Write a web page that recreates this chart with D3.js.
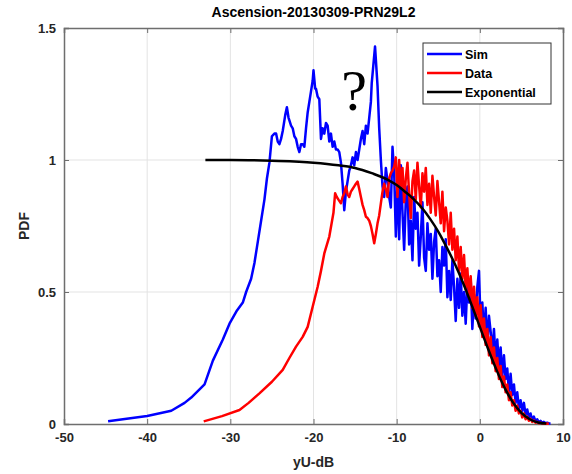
<!DOCTYPE html>
<html>
<head>
<meta charset="utf-8">
<script src="https://cdn.jsdelivr.net/npm/d3@7"></script>
<style>
    body { margin: 0; background: #fff; }
    svg { display: block; font-family: "Liberation Sans", Arial, sans-serif; }
</style>
</head>
<body>
<svg width="572" height="474"></svg>
<script>
const xTicks = [-50, -40, -30, -20, -10, 0, 10];
const yTicks = [0, 0.5, 1, 1.5];

// [yU-dB, PDF] pairs
const simPoints = [
    [-44.7, 0.01], [-40, 0.03], [-37.1, 0.05], [-35.5, 0.08], [-34.7, 0.10], [-33.1, 0.15], [-32.1, 0.24], [-30.9, 0.32], [-30.1, 0.38], [-29.2, 0.43],
    [-28.5, 0.46], [-28.1, 0.50], [-27.5, 0.55], [-27.1, 0.61], [-26.7, 0.69], [-26.3, 0.77], [-25.9, 0.85], [-25.6, 0.93], [-25.3, 0.99], [-25.0, 1.09],
    [-24.7, 1.10], [-24.5, 1.10], [-24.3, 1.07], [-24.1, 1.06], [-23.9, 1.08], [-23.7, 1.11], [-23.4, 1.17], [-23.2, 1.20], [-23.0, 1.16], [-22.9, 1.15],
    [-22.7, 1.13], [-22.5, 1.12], [-22.3, 1.09], [-22.1, 1.08], [-21.9, 1.05], [-21.7, 1.03], [-21.5, 1.06], [-21.3, 1.06], [-21.1, 1.05], [-20.9, 1.12],
    [-20.7, 1.18], [-20.5, 1.22], [-20.3, 1.26], [-20.1, 1.30], [-20.0, 1.34], [-19.8, 1.27], [-19.7, 1.27], [-19.5, 1.24], [-19.3, 1.23], [-19.1, 1.08],
    [-18.9, 1.12], [-18.7, 1.10], [-18.5, 1.14], [-18.3, 1.13], [-18.1, 1.07], [-17.9, 1.10], [-17.7, 1.05], [-17.5, 1.07], [-17.3, 1.04], [-17.1, 1.04],
    [-16.9, 1.03], [-16.7, 0.99], [-16.5, 0.91], [-16.3, 0.81], [-16.1, 0.88], [-15.9, 0.92], [-15.7, 0.96], [-15.5, 0.98], [-15.3, 1.01], [-15.1, 0.98],
    [-14.9, 1.03], [-14.7, 1.00], [-14.5, 1.04], [-14.3, 1.08], [-14.1, 1.11], [-13.9, 1.06], [-13.7, 1.13], [-13.5, 1.10], [-13.3, 1.16], [-13.1, 1.22],
    [-13.0, 1.29], [-12.8, 1.36], [-12.6, 1.43], [-12.4, 1.33], [-12.3, 1.28], [-12.1, 1.12], [-11.9, 1.00], [-11.7, 0.90], [-11.5, 0.86], [-11.3, 0.97],
    [-11.1, 0.92], [-10.9, 0.86], [-10.7, 0.82], [-10.5, 1.05], [-10.3, 0.95], [-10.1, 0.71],
    [-9.9, 0.92], [-9.7, 0.70], [-9.5, 0.98], [-9.3, 0.80], [-9.1, 0.66], [-8.9, 0.85], [-8.7, 0.90], [-8.5, 0.68], [-8.3, 0.77], [-8.1, 0.62],
    [-7.9, 0.86], [-7.7, 0.74], [-7.5, 0.80], [-7.3, 0.60], [-7.1, 0.71], [-6.9, 0.84], [-6.7, 0.63], [-6.5, 0.58], [-6.3, 0.76], [-6.1, 0.66],
    [-5.9, 0.72], [-5.7, 0.55], [-5.5, 0.69], [-5.3, 0.74], [-5.1, 0.56], [-4.9, 0.62], [-4.7, 0.50], [-4.5, 0.67], [-4.3, 0.60], [-4.1, 0.70],
    [-3.9, 0.48], [-3.7, 0.58], [-3.5, 0.47], [-3.3, 0.62], [-3.1, 0.52], [-2.9, 0.39], [-2.7, 0.55], [-2.5, 0.44], [-2.3, 0.57], [-2.1, 0.41],
    [-1.9, 0.50], [-1.7, 0.38], [-1.5, 0.53], [-1.3, 0.46], [-1.1, 0.55], [-0.9, 0.36], [-0.7, 0.49], [-0.5, 0.40], [-0.3, 0.52], [-0.1, 0.58],
    [0.1, 0.37], [0.3, 0.46], [0.5, 0.33], [0.7, 0.44], [0.9, 0.30], [1.1, 0.41], [1.3, 0.35], [1.5, 0.27], [1.7, 0.36], [1.9, 0.24],
    [2.1, 0.32], [2.3, 0.22], [2.5, 0.29], [2.7, 0.18], [2.9, 0.26], [3.1, 0.17], [3.3, 0.21], [3.5, 0.12], [3.7, 0.19], [3.9, 0.11],
    [4.1, 0.15], [4.3, 0.08], [4.5, 0.12], [4.7, 0.06], [4.9, 0.09], [5.1, 0.05], [5.3, 0.08], [5.5, 0.035], [5.7, 0.055], [5.9, 0.025],
    [6.1, 0.04], [6.3, 0.015], [6.5, 0.028], [6.7, 0.01], [6.9, 0.018], [7.1, 0.006], [7.3, 0.012], [7.5, 0.004], [7.7, 0.008], [7.9, 0.003],
    [8.1, 0.005], [8.3, 0.002], [8.5, 0.002]
];

const dataPoints = [
    [-33.2, 0.01], [-31, 0.03], [-28.9, 0.053], [-27.8, 0.08], [-26.5, 0.116], [-25, 0.16], [-23.7, 0.205], [-22.9, 0.25], [-22.1, 0.293], [-21.3, 0.33],
    [-20.7, 0.368], [-20.1, 0.444], [-19.5, 0.52], [-19.1, 0.58], [-18.7, 0.646], [-18.1, 0.71], [-17.6, 0.80], [-17.4, 0.874], [-17.2, 0.86], [-17.0, 0.85],
    [-16.7, 0.836], [-16.5, 0.86], [-16.3, 0.874], [-16.1, 0.90], [-15.9, 0.87], [-15.7, 0.86], [-15.5, 0.88], [-15.3, 0.89], [-15.1, 0.90], [-14.9, 0.91],
    [-14.7, 0.918], [-14.5, 0.89], [-14.3, 0.86], [-14.1, 0.83], [-13.9, 0.81], [-13.7, 0.785], [-13.5, 0.78], [-13.3, 0.77], [-13.1, 0.75], [-12.9, 0.72],
    [-12.7, 0.685], [-12.5, 0.72], [-12.3, 0.76], [-12.1, 0.79], [-11.9, 0.836], [-11.7, 0.88], [-11.5, 0.91], [-11.3, 0.89], [-11.1, 0.86], [-10.9, 0.93],
    [-10.7, 0.95], [-10.5, 0.96], [-10.3, 0.975], [-10.1, 1.01],
    [-9.9, 0.86], [-9.7, 1.00], [-9.5, 0.90], [-9.3, 0.97], [-9.1, 0.84], [-8.9, 0.93], [-8.7, 0.99], [-8.5, 0.87], [-8.3, 0.78], [-8.1, 0.92],
    [-7.9, 0.96], [-7.7, 0.85], [-7.5, 0.99], [-7.3, 0.90], [-7.1, 0.82], [-6.9, 0.95], [-6.7, 0.88], [-6.5, 0.97], [-6.3, 0.83], [-6.1, 0.91],
    [-5.9, 0.80], [-5.7, 0.94], [-5.5, 0.86], [-5.3, 0.79], [-5.1, 0.92], [-4.9, 0.84], [-4.7, 0.76], [-4.5, 0.88], [-4.3, 0.73], [-4.1, 0.82],
    [-3.9, 0.77], [-3.7, 0.68], [-3.5, 0.80], [-3.3, 0.66], [-3.1, 0.74], [-2.9, 0.62], [-2.7, 0.71], [-2.5, 0.58], [-2.3, 0.67], [-2.1, 0.55],
    [-1.9, 0.64], [-1.7, 0.51], [-1.5, 0.59], [-1.3, 0.48], [-1.1, 0.56], [-0.9, 0.44], [-0.7, 0.52], [-0.5, 0.41], [-0.3, 0.48], [-0.1, 0.37],
    [0.1, 0.45], [0.3, 0.33], [0.5, 0.40], [0.7, 0.30], [0.9, 0.36], [1.1, 0.26], [1.3, 0.33], [1.5, 0.23], [1.7, 0.29], [1.9, 0.20],
    [2.1, 0.25], [2.3, 0.17], [2.5, 0.22], [2.7, 0.14], [2.9, 0.18], [3.1, 0.12], [3.3, 0.15], [3.5, 0.09], [3.7, 0.12], [3.9, 0.07],
    [4.1, 0.09], [4.3, 0.05], [4.5, 0.07], [4.7, 0.04], [4.9, 0.05], [5.1, 0.025], [5.3, 0.04], [5.5, 0.018], [5.7, 0.028], [5.9, 0.012],
    [6.1, 0.02], [6.3, 0.008], [6.5, 0.013], [6.7, 0.005], [6.9, 0.008], [7.1, 0.003], [7.3, 0.005], [7.5, 0.002], [7.7, 0.003], [7.9, 0.001],
    [8.1, 0.002], [8.3, 0.001]
];

const expPoints = [
    [-33, 1.0], [-30, 1.0], [-25, 0.997], [-20, 0.99], [-17, 0.98], [-15, 0.97], [-13, 0.95], [-11, 0.924], [-10, 0.905], [-9, 0.88],
    [-8, 0.853], [-7, 0.82], [-6, 0.778], [-5, 0.729], [-4, 0.67], [-3, 0.606], [-2, 0.533], [-1, 0.452], [0, 0.368], [1, 0.284],
    [2, 0.205], [3, 0.136], [4, 0.081], [5, 0.042], [6, 0.018], [7, 0.006], [8, 0.0017]
];

const seriesNames = ["Sim", "Data", "Exponential"];
const seriesColors = ["#0000ff", "#ff0000", "#000000"];

const svg = d3.select("svg");
const area = { left: 64, right: 563, top: 28, bottom: 424 };
const textColor = "#262626";

const scX = d3.scaleLinear().domain([-50, 10]).range([area.left, area.right]);
const scY = d3.scaleLinear().domain([0, 1.5]).range([area.bottom, area.top]);

// grid
svg.append("g")
    .selectAll("line")
    .data(xTicks.slice(1, -1))
    .join("line")
    .attr("x1", d => scX(d)).attr("x2", d => scX(d))
    .attr("y1", area.top).attr("y2", area.bottom)
    .attr("stroke", "#e3e3e3").attr("stroke-width", 1);
svg.append("g")
    .selectAll("line")
    .data(yTicks.slice(1, -1))
    .join("line")
    .attr("x1", area.left).attr("x2", area.right)
    .attr("y1", d => scY(d)).attr("y2", d => scY(d))
    .attr("stroke", "#e3e3e3").attr("stroke-width", 1);

// axes
const plainFormat = d => String(d);
const axisBottom = svg.append("g")
    .attr("transform", `translate(0, ${area.bottom})`)
    .call(d3.axisBottom(scX).tickValues(xTicks).tickSize(-5).tickPadding(9).tickFormat(plainFormat));
const axisTop = svg.append("g")
    .attr("transform", `translate(0, ${area.top})`)
    .call(d3.axisTop(scX).tickValues(xTicks).tickSize(-5).tickFormat(""));
const axisLeft = svg.append("g")
    .attr("transform", `translate(${area.left}, 0)`)
    .call(d3.axisLeft(scY).tickValues(yTicks).tickSize(-5).tickPadding(8).tickFormat(plainFormat));
const axisRight = svg.append("g")
    .attr("transform", `translate(${area.right}, 0)`)
    .call(d3.axisRight(scY).tickValues(yTicks).tickSize(-5).tickFormat(""));

[axisBottom, axisTop, axisLeft, axisRight].forEach(g => {
    g.select(".domain").attr("stroke", "#6e6e6e").attr("stroke-width", 1.5);
    g.selectAll(".tick line").attr("stroke", "#6e6e6e").attr("stroke-width", 1);
    g.selectAll("text")
        .attr("fill", textColor)
        .style("font-size", "13px")
        .style("font-weight", "bold");
});

// lines
const allSeries = [simPoints, dataPoints, expPoints];

allSeries.forEach((pts, i) => {
    const line = d3.line()
        .x(d => scX(d[0]))
        .y(d => scY(d[1]))
        .curve(i === 2 ? d3.curveMonotoneX : d3.curveLinear);

    svg.append("path")
        .datum(pts)
        .attr("fill", "none")
        .attr("stroke", seriesColors[i])
        .attr("stroke-width", 2.5)
        .attr("stroke-linejoin", "round")
        .attr("d", line);
});

// titles
svg.append("text")
    .attr("x", (area.left + area.right) / 2)
    .attr("y", 17)
    .attr("text-anchor", "middle")
    .style("font-size", "14px")
    .style("font-weight", "bold")
    .attr("fill", "#000")
    .text("Ascension-20130309-PRN29L2");

svg.append("text")
    .attr("x", (area.left + area.right) / 2)
    .attr("y", 467)
    .attr("text-anchor", "middle")
    .style("font-size", "14px")
    .style("font-weight", "bold")
    .attr("fill", textColor)
    .text("yU-dB");

svg.append("text")
    .attr("transform", `translate(29, ${(area.top + area.bottom) / 2}) rotate(-90)`)
    .attr("text-anchor", "middle")
    .style("font-size", "14px")
    .style("font-weight", "bold")
    .attr("fill", textColor)
    .text("PDF");

// question mark annotation
svg.append("text")
    .attr("x", 354)
    .attr("y", 110)
    .attr("text-anchor", "middle")
    .style("font-family", "'Liberation Serif', 'Times New Roman', serif")
    .style("font-size", "58px")
    .attr("fill", "#000")
    .text("?");

// legend
const legend = svg.append("g").attr("transform", "translate(423, 43)");
legend.append("rect")
    .attr("width", 128).attr("height", 61)
    .attr("fill", "#fff")
    .attr("stroke", "#333").attr("stroke-width", 1);

seriesNames.forEach((name, i) => {
    const y = 11 + i * 19;
    legend.append("line")
        .attr("x1", 4).attr("x2", 39)
        .attr("y1", y).attr("y2", y)
        .attr("stroke", seriesColors[i]).attr("stroke-width", 2.5);
    legend.append("text")
        .attr("x", 42).attr("y", y + 4.5)
        .style("font-size", "12.5px")
        .style("font-weight", "bold")
        .attr("fill", "#000")
        .text(name);
});
</script>
</body>
</html>
